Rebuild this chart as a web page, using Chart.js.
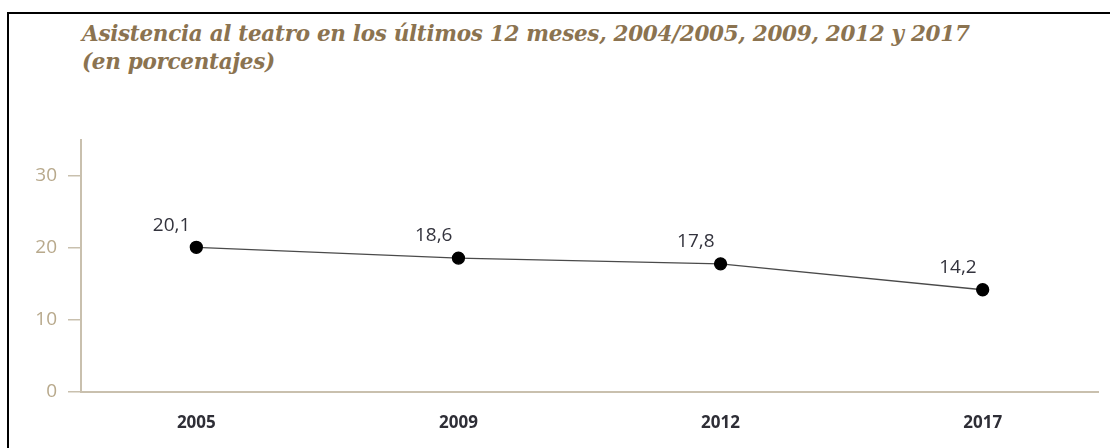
<!DOCTYPE html>
<html>
<head>
<meta charset="utf-8">
<script src="https://cdn.jsdelivr.net/npm/chart.js@4"></script>
<style>
  html, body { margin: 0; padding: 0; background: #fff; }
  body { width: 1110px; height: 448px; position: relative; overflow: hidden; }
  #frame {
    position: absolute; left: 7px; top: 12px; right: -10px; bottom: -10px;
    border-left: 2px solid #000; border-top: 2px solid #000;
  }
  #title {
    position: absolute; left: 82px; top: 20px;
    font-family: "DejaVu Serif", serif; font-weight: bold; font-style: italic;
    font-size: 21.5px; line-height: 28px; color: #8b7350; letter-spacing: -0.3px;
  }
  #chart { position: absolute; left: 0; top: 0; }
</style>
</head>
<body>
<div id="frame"></div>
<div id="title">Asistencia al teatro en los últimos 12 meses, 2004/2005, 2009, 2012 y 2017<br>(en porcentajes)</div>
<canvas id="chart" width="1110" height="448"></canvas>
<script>
// Daten
const years = ["2005", "2009", "2012", "2017"];
const asistencia = [20.1, 18.6, 17.8, 14.2];
const yTicks = [0, 10, 20, 30];

// Beschriftung der Punkte (Komma als Dezimaltrenner)
const pointLabels = {
  id: "pointLabels",
  afterDatasetsDraw(chart) {
    const ctx = chart.ctx;
    const meta = chart.getDatasetMeta(0);
    ctx.save();
    ctx.font = "19px 'Open Sans', sans-serif";
    ctx.fillStyle = "#33333d";
    ctx.textAlign = "right";
    ctx.textBaseline = "middle";
    meta.data.forEach((pt, i) => {
      ctx.fillText(asistencia[i].toFixed(1).replace(".", ","), pt.x - 6, pt.y - 22);
    });
    ctx.restore();
  }
};

const axisColor = "#c9c0ae";

new Chart(document.getElementById("chart"), {
  type: "line",
  data: {
    datasets: [{
      data: asistencia.map((v, i) => ({ x: i, y: v })),
      borderColor: "#4a4a4a",
      borderWidth: 1.3,
      pointRadius: 6,
      pointBackgroundColor: "#000",
      pointBorderColor: "#000",
      tension: 0
    }]
  },
  options: {
    responsive: false,
    animation: false,
    layout: { padding: { top: 140, right: 12, left: 0, bottom: 0 } },
    plugins: { legend: { display: false }, tooltip: { enabled: false } },
    scales: {
      x: {
        type: "linear",
        min: -0.44,
        max: 3.44,
        afterBuildTicks: (scale) => { scale.ticks = years.map((y, i) => ({ value: i })); },
        afterFit: (scale) => { scale.height = 56; },
        grid: { display: false },
        border: { color: axisColor, width: 2 },
        ticks: {
          callback: (v) => years[v],
          font: { family: "'Open Sans', sans-serif", size: 17, weight: "bold" },
          color: "#2e2e36",
          padding: 13
        }
      },
      y: {
        min: 0,
        max: 35,
        afterBuildTicks: (scale) => { scale.ticks = yTicks.map(v => ({ value: v })); },
        afterFit: (scale) => { scale.width = 81; },
        grid: { drawOnChartArea: false, color: axisColor, tickLength: 13, lineWidth: 1.5 },
        border: { color: axisColor, width: 2 },
        ticks: {
          font: { family: "'Open Sans', sans-serif", size: 19 },
          color: "#b8a98c",
          padding: 11
        }
      }
    }
  },
  plugins: [pointLabels]
});
</script>
</body>
</html>
